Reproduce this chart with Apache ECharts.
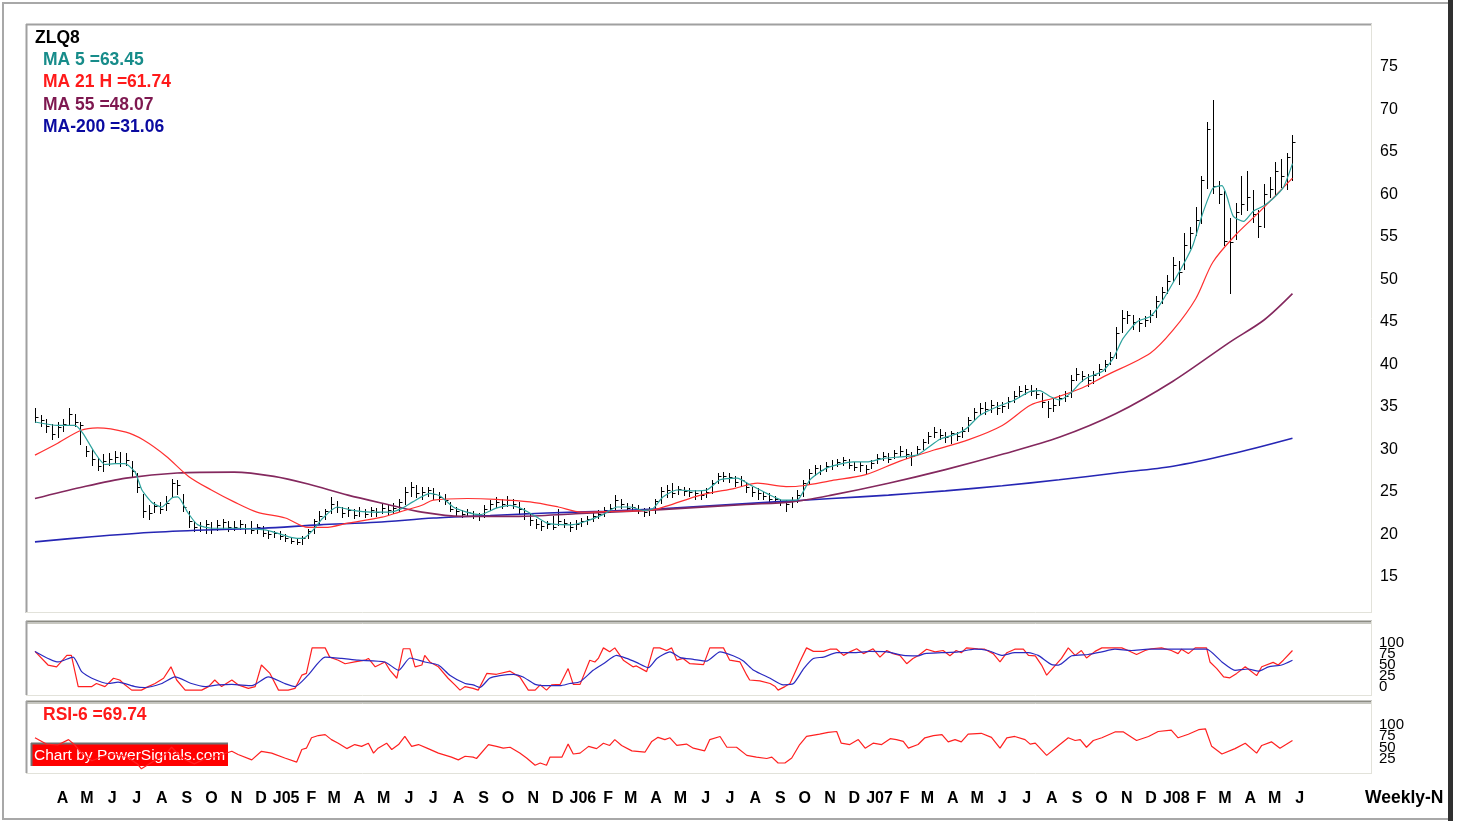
<!DOCTYPE html>
<html lang="en">
<head>
<meta charset="UTF-8">
<title>ZLQ8 weekly</title>
<style>
  html, body { margin: 0; padding: 0; background: #fff; }
  #chart { width: 1461px; height: 823px; }
</style>
<script src="https://cdn.jsdelivr.net/npm/echarts@6/dist/echarts.min.js"></script>
</head>
<body>
<div id="chart"></div>
<script>
// weekly bars, week 0 = end of Feb 2004
var closes = [
  33.6, 33.2, 32.5, 31.6, 32.4, 32.8, 34.0, 33.0, 32.6, 29.6,
  28.6, 27.8, 28.4, 28.6, 28.9, 28.2, 28.5, 27.2, 25.3, 22.5,
  22.3, 23.1, 22.8, 23.5, 25.8, 25.6, 23.0, 21.3, 20.6, 20.8,
  21.0, 20.4, 20.9, 21.2, 20.6, 20.7, 21.0, 20.5, 20.3, 20.6,
  20.0, 19.8, 19.9, 19.6, 19.3, 19.0, 18.9, 19.4, 20.2, 21.3,
  22.0, 22.5, 23.4, 23.0, 22.3, 22.7, 22.1, 22.5, 22.2, 22.6,
  22.4, 22.9, 22.6, 22.9, 23.6, 24.8, 25.4, 24.6, 24.8, 25.0,
  24.5, 24.2, 23.8, 22.8, 22.5, 22.2, 22.4, 22.0, 21.9, 22.8,
  23.3, 23.6, 23.3, 23.8, 23.4, 22.8, 22.3, 21.5, 21.0, 20.8,
  21.0, 20.7, 21.4, 21.1, 20.6, 21.0, 21.3, 21.6, 21.9, 22.2,
  22.6, 22.9, 23.8, 23.4, 22.9, 23.0, 22.7, 22.4, 22.6, 23.7,
  24.9, 25.0, 24.6, 25.1, 24.9, 24.8, 24.6, 24.4, 24.8, 25.8,
  26.6, 26.7, 26.5, 26.0, 26.2, 25.3, 24.8, 24.6, 24.3, 24.0,
  23.9, 23.6, 23.3, 23.8, 24.4, 25.8, 27.0, 27.6, 27.3, 27.8,
  28.0, 28.3, 28.5, 28.0, 27.7, 27.9, 27.5, 28.2, 28.8, 29.0,
  28.6, 29.3, 29.6, 29.2, 29.0, 29.8, 30.6, 31.4, 31.8, 31.5,
  31.2, 31.7, 31.4, 32.0, 33.2, 34.2, 34.7, 34.5, 35.0, 34.6,
  34.9, 35.5, 36.1, 36.6, 36.9, 36.7, 36.3, 35.3, 34.6, 35.0,
  35.8, 36.1, 38.0, 38.7, 38.4, 37.9, 38.5, 39.2, 39.8, 40.6,
  43.5, 45.2, 45.6, 44.8, 44.6, 45.0, 45.6, 47.2, 48.3, 49.6,
  51.5, 50.6, 53.8, 55.2, 56.8, 61.5, 67.5, 60.8, 59.8, 54.3,
  54.2, 57.7, 58.6, 59.5, 57.5, 56.1, 59.8, 60.4, 62.5, 62.0,
  64.2, 65.9
];
var highs = [
  34.6, 33.8, 33.3, 32.8, 33.0, 33.3, 34.6, 34.0, 33.0, 30.2,
  29.8, 28.8, 29.2, 29.4, 29.6, 29.5, 29.3, 28.4, 27.0, 24.5,
  23.2, 23.6, 23.6, 24.3, 26.3, 26.2, 24.5, 22.5, 21.3, 21.2,
  21.5, 21.2, 21.5, 21.6, 21.3, 21.4, 21.5, 21.0, 21.3, 21.0,
  20.8, 20.3, 20.2, 20.2, 19.8, 19.5, 19.3, 19.6, 20.4, 21.6,
  22.5, 22.8, 24.2, 23.7, 23.0, 23.0, 22.8, 23.0, 22.8, 23.0,
  22.9, 23.5, 23.4, 23.5, 24.0, 25.3, 26.0, 25.6, 25.3, 25.4,
  25.2, 24.8, 24.5, 23.6, 23.0, 22.6, 22.8, 22.5, 22.3, 23.2,
  23.8, 24.2, 24.0, 24.3, 24.0, 23.6, 22.9, 22.2, 21.6, 21.3,
  21.4, 22.0, 22.8, 21.6, 21.2, 21.5, 21.7, 22.0, 22.3, 22.6,
  23.0, 23.3, 24.4, 24.0, 23.5, 23.4, 23.2, 22.9, 23.0, 24.0,
  25.3, 25.6, 25.8, 25.5, 25.3, 25.2, 25.0, 24.9, 25.2, 26.2,
  27.0, 27.1, 27.0, 26.6, 26.6, 26.0, 25.3, 25.2, 24.8, 24.6,
  24.3, 24.0, 23.8, 24.2, 25.0, 26.2, 27.5, 28.0, 28.0, 28.3,
  28.5, 28.7, 28.9, 28.6, 28.3, 28.3, 28.0, 28.5, 29.2, 29.5,
  29.3, 29.7, 30.2, 29.8, 29.5, 30.2, 31.0, 31.8, 32.4, 32.2,
  31.8, 32.0, 31.8, 32.4, 33.6, 34.6, 35.2, 35.3, 35.6, 35.3,
  35.4, 36.0, 36.6, 37.2, 37.4, 37.3, 37.0, 36.4, 35.5, 35.8,
  36.2, 36.6, 38.5, 39.3, 39.0, 38.6, 39.0, 39.8, 40.3, 41.2,
  44.2, 46.2, 46.1, 45.6, 45.2, 45.5, 46.2, 47.8, 48.9, 50.3,
  52.4, 52.0, 55.2, 56.0, 58.3, 62.0, 68.3, 70.9, 61.3, 60.2,
  57.0, 58.8, 62.0, 62.5, 60.3, 58.0, 61.0, 61.8, 63.6, 64.0,
  64.6, 66.8
];
var lows = [
  33.0, 32.5, 31.8, 31.0, 31.2, 32.0, 32.6, 32.5, 30.4, 29.0,
  28.0, 27.3, 27.2, 28.0, 28.3, 27.8, 27.9, 26.5, 24.8, 21.8,
  21.6, 22.4, 22.3, 22.6, 24.2, 24.5, 22.5, 20.7, 20.2, 20.2,
  20.0, 20.0, 20.3, 20.5, 20.2, 20.3, 20.4, 20.0, 19.9, 20.0,
  19.6, 19.4, 19.5, 19.2, 19.0, 18.8, 18.6, 18.7, 19.3, 20.0,
  21.0, 21.6, 22.3, 22.4, 21.8, 22.0, 21.7, 22.0, 21.8, 22.0,
  21.9, 22.3, 22.1, 22.3, 22.5, 23.4, 24.3, 24.2, 24.0, 24.3,
  24.0, 23.7, 23.4, 22.5, 22.0, 21.8, 21.9, 21.7, 21.5, 21.8,
  22.6, 23.0, 22.9, 23.1, 22.9, 22.3, 21.6, 20.9, 20.5, 20.3,
  20.5, 20.4, 20.9, 20.6, 20.2, 20.4, 20.8, 21.0, 21.4, 21.7,
  22.0, 22.4, 22.8, 22.9, 22.5, 22.6, 22.3, 22.0, 22.1, 22.3,
  23.5, 24.2, 24.2, 24.5, 24.4, 24.3, 24.0, 24.0, 24.2, 24.6,
  25.8, 26.1, 26.0, 25.5, 25.6, 24.8, 24.3, 24.0, 23.9, 23.6,
  23.5, 23.2, 22.5, 23.0, 23.6, 24.3, 25.8, 26.8, 26.9, 27.2,
  27.5, 27.8, 27.9, 27.6, 27.3, 27.2, 27.0, 27.6, 28.2, 28.5,
  28.3, 28.8, 29.0, 28.8, 28.0, 29.2, 29.8, 30.5, 31.2, 31.0,
  30.7, 30.5, 30.9, 31.2, 32.0, 33.3, 34.0, 34.0, 34.2, 34.0,
  34.2, 34.6, 35.3, 35.9, 36.3, 36.2, 35.8, 34.8, 33.6, 34.3,
  35.0, 35.5, 36.0, 37.9, 37.8, 37.2, 37.6, 38.5, 39.0, 39.8,
  40.5, 43.6, 44.6, 44.0, 43.7, 44.3, 44.8, 45.4, 47.0, 48.2,
  49.6, 49.2, 51.0, 53.5, 55.0, 56.4, 60.5, 60.0, 58.8, 53.8,
  48.2, 54.5, 57.5, 58.0, 56.5, 54.8, 56.0, 59.5, 59.8, 60.6,
  60.4, 61.5
];

// moving averages: [week, value]
var ma5 = [
  [0,33.0],[4,32.6],[7,32.6],[8.4,31.7],[10.5,29.4],[12.3,28.0],[14.1,28.1],[15.8,28.1],
  [17.6,27.1],[18.8,25.0],[20.6,23.5],[22.3,23.0],[24.1,24.1],[25.1,24.2],[26.9,22.3],
  [28.6,20.9],[31.1,20.5],[35.7,20.5],[40.4,20.3],[42.7,19.9],[45.2,19.4],[47.1,19.3],
  [48.9,20.3],[50.6,21.7],[53.1,23.0],[55.9,22.6],[58.9,22.4],[62.4,22.4],[64.7,22.9],
  [66.4,23.6],[69.4,24.6],[71.2,24.3],[73.5,23.0],[75.9,22.4],[78.2,22.1],[81.2,22.9],
  [83.5,23.2],[85.2,22.9],[87.5,22.1],[90,21.1],[94,20.9],[96.3,21.2],[99.8,22.1],
  [102.3,23.0],[104.6,23.0],[106.9,22.6],[108.6,22.8],[110.4,24.2],[112.8,25.0],
  [115.6,24.9],[118.1,25.0],[120.4,26.2],[123.4,26.4],[125.7,25.6],[128.6,24.6],
  [131.5,23.8],[133.9,23.8],[136.2,26.2],[139.2,27.6],[143.8,28.3],[146.2,28.3],
  [149,28.7],[152,28.9],[155,29.1],[156.8,29.9],[159.1,31.0],[162,31.6],[163.8,32.3],
  [166.1,33.8],[169.1,34.8],[171.9,35.5],[174.9,36.6],[176.6,36.7],[178.4,36.0],
  [180.1,35.6],[182,36.4],[183.7,37.6],[184.9,38.2],[187.7,39.0],[189.5,40.5],
  [191.2,42.8],[193.7,44.8],[196,45.4],[197.7,46.8],[199.5,48.8],[201.8,51.5],
  [203.5,53.8],[205.2,57.5],[207,60.5],[208.6,60.8],[209.5,59.5],[210.6,57.2],
  [212.4,56.6],[214.1,57.8],[215.9,58.4],[217.6,59.3],[219.4,60.6],[221,63.4]
];
var ma21 = [
  [0,29.1],[4,30.5],[8,32.0],[11,32.3],[16,31.8],[19,30.9],[23,29.0],[27,26.6],
  [31,25.0],[35,23.6],[39,22.4],[44,21.7],[48,20.6],[51,20.6],[55,21.1],[61,21.8],
  [64,22.4],[68,23.2],[70,23.8],[76,24.0],[81,23.9],[87,23.6],[92,23.0],[96,22.4],
  [102,22.5],[108,22.6],[111,23.1],[117,24.4],[123,25.2],[127,25.8],[132,25.4],
  [135,25.5],[140,26.1],[146,26.8],[152,28.4],[158,29.7],[164,30.9],[170,32.6],
  [175,35.0],[179,35.8],[184,37.0],[188,38.4],[196,41.1],[200,43.8],[204,47.5],
  [207,51.8],[211,55.0],[215,57.6],[221,61.7]
];
var ma55 = [
  [0,24.0],[8,25.3],[16,26.4],[25,27.0],[35,27.1],[42,26.6],[48,25.7],[55,24.4],
  [62,23.3],[68,22.4],[75,21.9],[85,21.9],[95,22.2],[105,22.5],[115,22.9],[125,23.3],
  [133,23.6],[140,24.4],[150,25.8],[160,27.4],[170,29.2],[180,31.2],[190,34.0],
  [200,37.8],[210,42.4],[216,45.0],[221,48.1]
];
var ma200 = [
  [0,18.9],[10,19.5],[20,20.0],[30,20.3],[40,20.5],[50,20.9],[60,21.2],[70,21.7],
  [80,22.0],[90,22.3],[100,22.5],[110,22.8],[120,23.2],[130,23.6],[140,24.0],
  [150,24.4],[160,24.9],[170,25.5],[180,26.2],[190,27.0],[200,27.8],[210,29.2],[221,31.1]
];

// stochastic %K / %D and RSI-6, [week, value]
var stochK = [
  [0,90],[2.3,59],[3.8,55],[5.6,81],[6.4,81],[7.6,10],[10,10],[10.8,17],[12.3,10],
  [13.8,29],[14.9,25],[15.8,14],[17,2],[18.7,2],[19.9,10],[21.1,17],[22.6,29],[23.9,55],
  [24.9,25],[26.4,2],[29.3,2],[30.5,10],[31.6,25],[32.8,10],[34.6,25],[35.7,14],[37.5,6],
  [38.7,10],[39.8,59],[41.3,40],[42.8,2],[44.5,2],[45.7,6],[46.9,36],[47.7,40],[48.7,98],
  [51,98],[51.8,77],[53.3,70],[54.5,62],[56.2,66],[58,70],[58.6,74],[59.8,55],[61.5,66],
  [62.4,47],[63.6,29],[64.7,96],[65.9,96],[66.8,55],[68,59],[68.5,81],[69.4,66],[70.9,55],
  [72.6,29],[73.8,14],[74.7,2],[75.6,10],[77,6],[77.9,2],[79.4,40],[81.1,38],[83.5,45],
  [85.2,32],[86.7,2],[87.9,2],[88.8,14],[89.9,2],[90.8,14],[92.3,15],[93.7,51],[94.6,15],
  [95.8,15],[97.5,70],[98.4,66],[99,74],[99.9,98],[101,89],[101.9,98],[103.4,70],
  [105.1,55],[105.7,57],[107.5,44],[108.7,98],[109.8,98],[111,92],[111.9,98],[112.8,70],
  [113.9,74],[115.1,62],[117.5,60],[118.6,98],[121,98],[122.1,70],[123.9,66],[125.1,36],
  [125.6,25],[127.4,23],[129.2,17],[130.1,10],[130.6,2],[131.8,10],[132.7,17],[134.4,66],
  [135.6,98],[136.8,90],[138.6,90],[139.7,95],[140.9,95],[142.1,81],[143.2,89],[144.4,96],
  [145.6,85],[147.3,96],[148.5,77],[149.7,92],[150.8,85],[152,81],[153.2,62],[154.3,74],
  [155.2,80],[156.7,95],[158.2,89],[159.6,92],[160.8,80],[161.9,92],[162.8,87],[163.7,98],
  [165.7,96],[166.9,95],[168.4,85],[169.6,66],[170.8,87],[172.2,95],[173.7,95],[174.6,81],
  [175.8,80],[176.9,59],[177.8,36],[180.4,74],[181.6,98],[182.8,81],[183.9,92],[184.8,75],
  [186.3,90],[187.5,98],[191,98],[192.1,92],[193.6,83],[195.1,92],[196.2,96],[198,98],
  [199.7,92],[200.9,85],[201.5,95],[202.7,85],[203.9,98],[205.9,98],[206.5,66],[207.7,51],
  [208.9,32],[210,30],[211.2,40],[212.7,55],[213.5,47],[214.7,35],[215.6,55],[217.6,65],
  [218.5,59],[219.4,70],[221,92]
];
var stochD = [
  [0,90],[4.1,66],[6.7,77],[8.2,44],[10,29],[12.9,17],[14.6,20],[17.6,10],[19.3,8],
  [22.3,17],[24.6,32],[27.5,17],[29.9,10],[32.2,14],[34.6,15],[38.1,12],[41,32],[43.9,17],
  [45.7,10],[48,36],[51,77],[53.9,74],[56.8,70],[61.5,66],[63.9,47],[65.9,75],[68.5,66],
  [70.9,59],[72.9,36],[75.6,17],[77,14],[78.2,8],[79.9,29],[81.7,35],[84.1,38],[85.8,32],
  [87.9,15],[89.9,12],[92.3,12],[94,17],[95.8,21],[98.1,47],[99.9,62],[102.2,81],[104,74],
  [105.7,65],[107.8,53],[109.3,74],[111.6,89],[113.4,76],[115.7,72],[118,68],[120.4,89],
  [122.7,80],[124.5,68],[126.3,47],[129.2,29],[131.5,14],[133.3,17],[135.1,51],[136.8,74],
  [138.6,77],[140.9,87],[143.8,87],[146.7,90],[149.7,89],[152.6,81],[155.2,80],[156.4,85],
  [159.4,87],[162.3,89],[165.1,95],[167.5,92],[169.9,81],[172.2,87],[174.6,87],[176.3,81],
  [178.7,60],[179.9,59],[182.2,80],[185.1,83],[187.5,89],[189.8,95],[192.7,92],[195.7,95],
  [199.2,95],[202.7,95],[205.9,95],[208.6,66],[210.9,47],[213.2,50],[215,45],[216.8,55],
  [219.1,59],[221,70]
];
var rsi6 = [
  [0,76],[2,62],[4,60],[5.9,72],[7,60],[8,45],[10,25],[12,35],[14,40],[16,35],[18,18],
  [18.7,7],[21,25],[23,40],[24,55],[26,30],[28,18],[30,30],[32,35],[34.6,46],[35.7,39],
  [38.1,27],[39.8,46],[41.6,42],[43.9,31],[46,22],[46.9,50],[47.7,53],[48.6,76],[49.8,81],
  [51,83],[52.1,72],[53.3,64],[54.8,52],[56.2,61],[57.4,57],[58.6,64],[59.5,42],[60.3,53],
  [61.8,64],[62.7,50],[63.9,61],[65,79],[66.2,57],[67.4,61],[69.1,52],[70.9,42],[73.2,33],
  [74.4,27],[75.6,35],[77,33],[77.6,30],[79.7,61],[81.1,57],[82.3,53],[83.5,55],[85.2,42],
  [86.4,31],[87.9,15],[88.8,20],[89.9,15],[90.5,33],[92.6,33],[93.7,62],[94.6,40],[95.8,42],
  [97.3,57],[98.7,52],[99.9,64],[101,59],[101.9,72],[103.1,59],[104.9,47],[107.2,44],
  [108.4,68],[109.5,77],[110.7,72],[111.6,76],[112.8,59],[114.5,62],[115.7,53],[117.7,47],
  [118.6,72],[120.4,79],[121.6,55],[123.3,55],[125.1,37],[126.8,33],[128.6,30],[129.5,33],
  [130.6,20],[131.8,20],[133,31],[134.4,61],[135.6,79],[137.9,84],[139.4,88],[140.9,90],
  [141.7,64],[143.2,61],[144.7,72],[145.9,53],[147.3,64],[148.8,61],[150.3,74],[151.4,72],
  [152.6,68],[153.5,53],[155.2,61],[156.4,76],[157.9,81],[159.4,83],[160.5,67],[161.7,72],
  [162.8,67],[164,84],[166.3,86],[168.1,77],[169.6,53],[170.8,76],[172.2,79],[174,72],
  [174.9,62],[175.8,64],[177.8,37],[179.9,59],[181.6,76],[182.8,70],[183.7,72],[184.8,55],
  [186,70],[187.5,76],[189.8,89],[191.3,89],[193.6,70],[195.7,79],[197.4,90],[199.7,93],
  [200.9,76],[202.7,84],[204.5,94],[205.7,96],[206.8,57],[208.6,40],[210.9,52],[212.7,64],
  [214.7,42],[215.6,59],[217.3,67],[218.8,53],[221,70]
];

// month ticks (week position of the 1st of each month)
var monthPos = [4.86,9.14,13.57,17.86,22.29,26.71,31.0,35.43,39.71,44.14,48.57,52.57,57.0,
  61.29,65.71,70.0,74.43,78.86,83.14,87.57,91.86,96.29,100.71,104.71,109.14,113.43,117.86,
  122.14,126.57,131.0,135.29,139.71,144.0,148.43,152.86,156.86,161.29,165.57,170.0,174.29,
  178.71,183.14,187.43,191.86,196.14,200.57,205.0,209.14,213.57,217.86,222.29];
var monthLabels = ['A','M','J','J','A','S','O','N','D','J05','F','M','A','M','J','J','A','S','O','N','D',
  'J06','F','M','A','M','J','J','A','S','O','N','D','J07','F','M','A','M','J','J','A','S','O','N','D',
  'J08','F','M','A','M','J'];
var oscTicks = [0, 25, 50, 75, 100];
var rsiTicks = [25, 50, 75, 100];

var FONT = '"Liberation Sans", Arial, sans-serif';
var myChart = echarts.init(document.getElementById('chart'));

var bars = closes.map(function (c, i) { return [i, highs[i], lows[i], c]; });

function xAxisFor(idx, showLabels) {
  return {
    type: 'value', gridIndex: idx, min: -1.4, max: 234.8,
    axisLine: { show: false }, axisTick: { show: false }, splitLine: { show: false },
    axisLabel: showLabels ? {
      show: true, customValues: monthPos, margin: 19,
      color: '#000', fontFamily: FONT, fontWeight: 'bold', fontSize: 16,
      formatter: function (v) {
        var k = monthPos.indexOf(v);
        return k < 0 ? '' : monthLabels[k];
      }
    } : { show: false }
  };
}

// the oscillator scales print overlapping numbers; one axis per number keeps them all
function oscAxis(idx, tick, lift) {
  return {
    type: 'value', gridIndex: idx, position: 'right', min: 0, max: 100,
    axisLine: { show: false }, axisTick: { show: false }, splitLine: { show: false },
    axisLabel: {
      customValues: [tick], showMinLabel: true, showMaxLabel: true,
      margin: 8, color: '#000', fontFamily: FONT, fontSize: 15,
      verticalAlign: 'bottom', lineHeight: lift
    }
  };
}

function hline(x1, x2, y, color, w) {
  return { type: 'line', silent: true, z: 50, shape: { x1: x1, y1: y, x2: x2, y2: y }, style: { stroke: color, lineWidth: w } };
}
function vline(x, y1, y2, color, w) {
  return { type: 'line', silent: true, z: 50, shape: { x1: x, y1: y1, x2: x, y2: y2 }, style: { stroke: color, lineWidth: w } };
}
function label(txt, x, y, color, size) {
  return { type: 'text', silent: true, z: 100, x: x, y: y,
    style: { text: txt, fill: color, font: 'bold ' + (size || 17.5) + 'px ' + FONT, textVerticalAlign: 'middle' } };
}

var yAxes = [{
  type: 'value', gridIndex: 0, position: 'right', min: 10, max: 80, interval: 5,
  axisLine: { show: false }, axisTick: { show: false }, splitLine: { show: false },
  axisLabel: { margin: 9, color: '#000', fontFamily: FONT, fontSize: 16, showMinLabel: false, showMaxLabel: false,
    verticalAlign: 'top', lineHeight: 4 }
}];
var stochAxis = yAxes.length;
oscTicks.forEach(function (t) { yAxes.push(oscAxis(1, t, 8)); });
var rsiAxis = yAxes.length;
rsiTicks.forEach(function (t) { yAxes.push(oscAxis(2, t, 4)); });

var option = {
  animation: false,
  backgroundColor: '#fff',
  grid: [
    { left: 27, top: 22.5, width: 1344, height: 595, outerBoundsMode: 'none' },
    { left: 27, top: 647, width: 1344, height: 44, outerBoundsMode: 'none' },
    { left: 27, top: 727, width: 1344, height: 45, outerBoundsMode: 'none' }
  ],
  xAxis: [xAxisFor(0, false), xAxisFor(1, false), xAxisFor(2, true)],
  yAxis: yAxes,
  series: [
    {
      name: 'ZLQ8', type: 'custom', xAxisIndex: 0, yAxisIndex: 0, data: bars,
      encode: { x: 0, y: [1, 2, 3] }, clip: true,
      renderItem: function (params, api) {
        var x = api.value(0);
        var hi = api.coord([x, api.value(1)]);
        var lo = api.coord([x, api.value(2)]);
        var cl = api.coord([x, api.value(3)]);
        var px = Math.round(hi[0]) + 0.5;
        var cy = Math.round(cl[1]) + 0.5;
        return {
          type: 'group',
          children: [
            { type: 'line', shape: { x1: px, y1: Math.round(hi[1]), x2: px, y2: Math.round(lo[1]) + 1 }, style: { stroke: '#000', lineWidth: 1 } },
            { type: 'line', shape: { x1: px, y1: cy, x2: px + 3, y2: cy }, style: { stroke: '#000', lineWidth: 1 } }
          ]
        };
      }
    },
    { name: 'MA-200', type: 'line', xAxisIndex: 0, yAxisIndex: 0, data: ma200, symbol: 'none', smooth: 0.3,
      lineStyle: { color: '#2626b4', width: 1.6 } },
    { name: 'MA 55', type: 'line', xAxisIndex: 0, yAxisIndex: 0, data: ma55, symbol: 'none', smooth: 0.3,
      lineStyle: { color: '#84285e', width: 1.6 } },
    { name: 'MA 21 H', type: 'line', xAxisIndex: 0, yAxisIndex: 0, data: ma21, symbol: 'none', smooth: 0.3,
      lineStyle: { color: '#ff3030', width: 1.2 } },
    { name: 'MA 5', type: 'line', xAxisIndex: 0, yAxisIndex: 0, data: ma5, symbol: 'none', smooth: 0.2,
      lineStyle: { color: '#2ea39e', width: 1.2 } },
    { name: '%K', type: 'line', xAxisIndex: 1, yAxisIndex: stochAxis, data: stochK, symbol: 'none',
      lineStyle: { color: '#ff2020', width: 1.2 } },
    { name: '%D', type: 'line', xAxisIndex: 1, yAxisIndex: stochAxis, data: stochD, symbol: 'none', smooth: 0.2,
      lineStyle: { color: '#2a2ac0', width: 1.2 } },
    { name: 'RSI-6', type: 'line', xAxisIndex: 2, yAxisIndex: rsiAxis, data: rsi6, symbol: 'none',
      lineStyle: { color: '#ff2020', width: 1.2 } }
  ],
  graphic: [
    // outer frame
    hline(2, 1452, 3, '#a8a8a8', 2),
    vline(3, 2, 820, '#a8a8a8', 2),
    hline(2, 1452, 819, '#a8a8a8', 2),
    // panels: darker top/left, light bottom/right
    hline(26, 1372, 24.5, '#a0a0a0', 2), vline(26.5, 24, 613, '#a0a0a0', 2),
    vline(1371.5, 24, 613, '#e2e2da', 1), hline(26, 1372, 612.5, '#e2e2da', 1),
    hline(26, 1372, 621.5, '#8c8c84', 2), hline(26, 1372, 623.5, '#c8c8c0', 1),
    vline(26.5, 621, 695, '#a0a0a0', 2), vline(1371.5, 621, 695, '#e2e2da', 1), hline(26, 1372, 695.5, '#e2e2da', 1),
    hline(26, 1372, 701.5, '#8c8c84', 2), hline(26, 1372, 703.5, '#c8c8c0', 1),
    vline(26.5, 701, 773, '#a0a0a0', 2), vline(1371.5, 701, 773, '#e2e2da', 1), hline(26, 1372, 773.5, '#e2e2da', 1),
    // legend
    label('ZLQ8', 35, 38, '#000'),
    label('MA 5 =63.45', 43, 60, '#178c8a'),
    label('MA 21 H =61.74', 43, 82, '#ff1a1a'),
    label('MA 55 =48.07', 43, 105, '#7e1850'),
    label('MA-200 =31.06', 43, 127, '#0a0aa0'),
    label('RSI-6 =69.74', 43, 715, '#ff1a1a'),
    label('Weekly-N', 1365, 798, '#000'),
    // watermark box
    {
      type: 'group', z: 100, silent: true,
      children: [
        { type: 'rect', shape: { x: 31, y: 743, width: 197, height: 23 }, style: { fill: '#ff0000', stroke: null } },
        { type: 'line', shape: { x1: 31, y1: 743.5, x2: 228, y2: 743.5 }, style: { stroke: '#707070', lineWidth: 2 } },
        { type: 'line', shape: { x1: 31.5, y1: 743, x2: 31.5, y2: 766 }, style: { stroke: '#707070', lineWidth: 2 } },
        { type: 'text', x: 34, y: 756, style: { text: 'Chart by PowerSignals.com', fill: '#fff', font: '15.5px ' + FONT, textVerticalAlign: 'middle' } }
      ]
    },
    // right dark edge
    { type: 'rect', silent: true, z: 120, shape: { x: 1448, y: 0, width: 5, height: 821 }, style: { fill: '#303030' } }
  ]
};

myChart.setOption(option);
</script>
</body>
</html>
